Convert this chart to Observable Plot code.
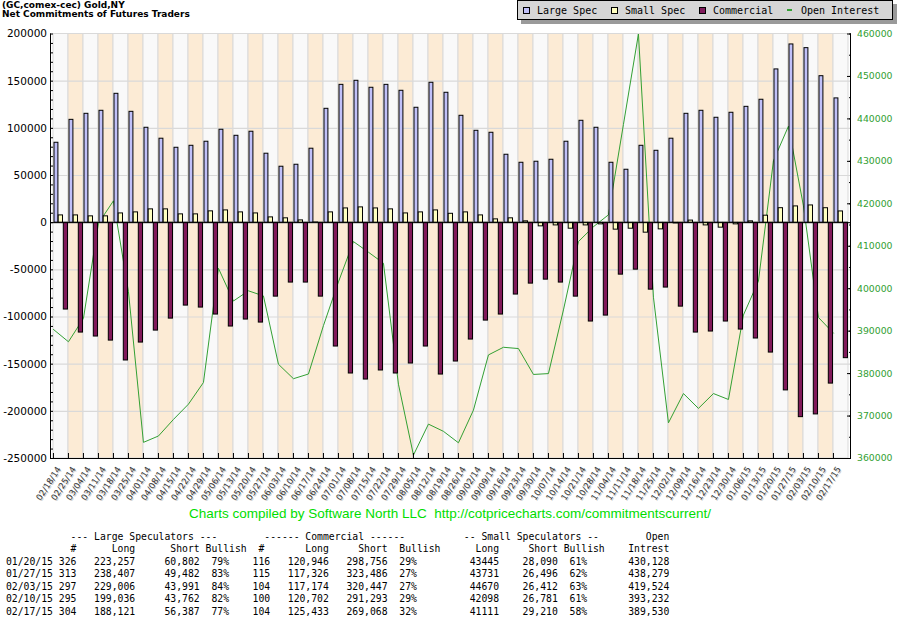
<!DOCTYPE html>
<html>
<head>
<meta charset="utf-8">
<script src="https://cdn.jsdelivr.net/npm/d3@7"></script>
<script src="https://cdn.jsdelivr.net/npm/@observablehq/plot@0.6"></script>
<style>
  body { margin: 0; background: #fff; }
  #wrap { position: relative; width: 900px; height: 620px; overflow: hidden; background: #fff; }
  #title { position: absolute; left: 2px; top: 1px; font: bold 9px "DejaVu Sans"; line-height: 8.5px; color: #000; white-space: pre; }
  #legend { position: absolute; left: 517px; top: 0px; width: 369px; height: 18px; background: #d6d6d6; border: 1px solid #000; box-shadow: 4px 4px 0 #9a9a9a; display: flex; align-items: center; padding-left: 5px; box-sizing: content-box; font: 10px "DejaVu Sans Mono"; color: #000; }
  .item { display: flex; align-items: center; width: 88px; white-space: pre; }
  .mk { width: 5px; height: 5px; border: 1px solid #000; margin-right: 7px; flex: none; }
  .dash { width: 5px; height: 2px; margin-right: 9px; flex: none; }
  #chart { position: absolute; left: 0; top: 28px; }
  #caption { position: absolute; left: 0; top: 506px; width: 900px; text-align: center; font: 13.5px "Liberation Sans"; color: #00dd00; white-space: pre; }
  #table { position: absolute; left: 6px; top: 530.5px; margin: 0; font: 9.75px "DejaVu Sans Mono"; line-height: 12.5px; color: #000; white-space: pre; }
</style>
</head>
<body>
<div id="wrap">
  <div id="title"></div>
  <div id="legend"></div>
  <div id="chart"></div>
  <div id="caption"></div>
  <pre id="table"></pre>
</div>
<script>
// ---------- data ----------
const titleLines = ["(GC,comex-cec) Gold,NY", "Net Commitments of Futures Traders"];
const weeks = ["02/18/14","02/25/14","03/04/14","03/11/14","03/18/14","03/25/14","04/01/14","04/08/14","04/15/14","04/22/14","04/29/14","05/06/14","05/13/14","05/20/14","05/27/14","06/03/14","06/10/14","06/17/14","06/24/14","07/01/14","07/08/14","07/15/14","07/22/14","07/29/14","08/05/14","08/12/14","08/19/14","08/26/14","09/02/14","09/09/14","09/16/14","09/23/14","09/30/14","10/07/14","10/14/14","10/21/14","10/28/14","11/04/14","11/11/14","11/18/14","11/25/14","12/02/14","12/09/14","12/16/14","12/23/14","12/30/14","01/06/15","01/13/15","01/20/15","01/27/15","02/03/15","02/10/15","02/17/15"];
const largeSpec = [84700,109000,115400,118600,136600,117500,100600,89000,79400,81500,85800,98500,92100,96400,73100,59300,61400,78400,120700,146100,150400,143000,146100,139800,121800,148300,137700,113300,97400,95300,72000,63500,64600,66700,85800,108000,100600,63500,56100,81500,76200,89000,115400,118600,111200,116500,122800,130300,162455,188925,185015,155274,131734];
const smallSpec = [7700,7700,6700,6700,9800,10900,14100,14100,8800,8800,12000,13000,10900,9800,5600,4600,2400,300,10900,15100,16200,15100,14100,9800,10900,13000,9400,10900,7700,3500,4600,1400,-3900,-2900,-6400,-2900,-1800,-7400,-6400,-10600,-7100,-800,2200,-2900,-5300,-1800,1400,7400,15355,17235,18258,15317,11901];
const commercial = [-92100,-116500,-120700,-125000,-146100,-127100,-114400,-101700,-87900,-90000,-97400,-110100,-102700,-105900,-78400,-63500,-63500,-78400,-131300,-159900,-166300,-156700,-159900,-149300,-131300,-161000,-147200,-123900,-103800,-97400,-76200,-64600,-60400,-63500,-78400,-104800,-98500,-55100,-49800,-71000,-68800,-89000,-116500,-115400,-104800,-113300,-122800,-137700,-177810,-206160,-203273,-170591,-143635];
const openInterest = [390400,387500,393000,415400,420700,399300,363800,365300,369200,372800,377900,404800,397100,399500,398300,382200,378800,379900,391300,401600,411100,408600,406000,377500,360800,368100,366400,363700,371400,384400,386200,385900,379800,380000,395000,411100,414600,417400,438700,460000,398000,368400,375300,371800,375300,373900,393800,401800,430128,438279,419524,393232,389530];

const leftTicks = [-250000,-200000,-150000,-100000,-50000,0,50000,100000,150000,200000];
const rightTicks = [360000,370000,380000,390000,400000,410000,420000,430000,440000,450000,460000];

const legendLabels = ["Large Spec","Small Spec","Commercial","Open Interest"];
const caption = "Charts compiled by Software North LLC  http://cotpricecharts.com/commitmentscurrent/";

// bottom table
const tDates   = ["01/20/15","01/27/15","02/03/15","02/10/15","02/17/15"];
const tLsN     = [326,313,297,295,304];
const tLsLong  = [223257,238407,229006,199036,188121];
const tLsShort = [60802,49482,43991,43762,56387];
const tLsBull  = [79,83,84,82,77];
const tCmN     = [116,115,104,100,104];
const tCmLong  = [120946,117326,117174,120702,125433];
const tCmShort = [298756,323486,320447,291293,269068];
const tCmBull  = [29,27,27,29,32];
const tSsLong  = [43445,43731,44670,42098,41111];
const tSsShort = [28090,26496,26412,26781,29210];
const tSsBull  = [61,62,63,61,58];
const tOi      = [430128,438279,419524,393232,389530];

// ---------- styling ----------
const C_LARGE = "#c0c0f8", C_SMALL = "#ffffc0", C_COMM = "#801a5a", C_OI = "#33a033";
const C_BAND_A = "#f9f9f9", C_BAND_B = "#fcebd5", C_GRID = "#d9d9d9";

// ---------- header / legend / caption ----------
document.getElementById("title").textContent = titleLines.join("\n");
const legendColors = [C_LARGE, C_SMALL, C_COMM, C_OI];
const legend = document.getElementById("legend");
legendLabels.forEach((lab, i) => {
  const it = document.createElement("div");
  it.className = "item";
  const mk = document.createElement("span");
  mk.className = i === 3 ? "dash" : "mk";
  mk.style.background = legendColors[i];
  const tx = document.createElement("span");
  tx.textContent = lab;
  it.appendChild(mk); it.appendChild(tx);
  legend.appendChild(it);
});
document.getElementById("caption").textContent = caption;

// ---------- chart ----------
const yMin = -250000, yMax = 200000;
const oiMin = 360000, oiMax = 460000;
const k = (yMax - yMin) / (oiMax - oiMin);
const toLeft = v => yMin + (v - oiMin) * k;
const fromLeft = y => oiMin + (y - yMin) / k;

const plotW = 800;
const bw = plotW / weeks.length;

const rows = weeks.map((w, i) => ({w, i, large: largeSpec[i], small: smallSpec[i], comm: commercial[i], oi: openInterest[i]}));

const minorLeft = d3.range(yMin, yMax + 1, 10000);
const gridVals = leftTicks.filter(v => v > yMin && v < yMax);
const rightMajor = rightTicks.map(toLeft);
const rightMinor = d3.range(oiMin, oiMax + 1, 5000).map(toLeft);

const chart = Plot.plot({
  width: 900,
  height: 482,
  marginTop: 5.5,
  marginBottom: 52,
  marginLeft: 50,
  marginRight: 50,
  style: {background: "transparent", fontFamily: "DejaVu Sans", overflow: "visible"},
  x: {type: "band", domain: weeks, padding: 0, axis: null, label: null},
  y: {domain: [yMin, yMax], axis: null, label: null},
  marks: [
    // alternating week bands with light separators
    Plot.barY(rows, {x: "w", y1: yMin, y2: yMax, fill: d => d.i % 2 ? C_BAND_B : C_BAND_A, stroke: C_GRID, strokeWidth: 1}),
    Plot.ruleY(gridVals, {stroke: C_GRID, strokeWidth: 1.2}),
    // open interest (right scale), drawn behind bars, at band starts
    Plot.line(rows, {x: "w", y: d => toLeft(d.oi), stroke: C_OI, strokeWidth: 1, dx: -bw / 2}),
    // grouped bars
    Plot.barY(rows, {x: "w", y: "large", fill: C_LARGE, stroke: "#000", strokeWidth: 1, insetLeft: 1, insetRight: bw - 5}),
    Plot.barY(rows, {x: "w", y: "small", fill: C_SMALL, stroke: "#000", strokeWidth: 1, insetLeft: 5.2, insetRight: bw - 9.6}),
    Plot.barY(rows, {x: "w", y: "comm", fill: C_COMM, stroke: "#000", strokeWidth: 1, insetLeft: 10.3, insetRight: bw - 14.6}),
    Plot.ruleY([0], {stroke: "#000", strokeWidth: 1}),
    // frame sides
    Plot.frame({anchor: "left", stroke: "#000"}),
    Plot.frame({anchor: "right", stroke: "#000"}),
    Plot.frame({anchor: "bottom", stroke: "#000"}),
    // left axis
    Plot.axisY({anchor: "left", label: null, ticks: leftTicks, tickSize: 0, tickPadding: 3.5, tickFormat: d => String(d), fontSize: 10.5, fill: "#000"}),
    Plot.axisY({anchor: "left", label: null, ticks: minorLeft, tickSize: 3, dx: 3, text: null, stroke: "#000"}),
    // right axis (open interest)
    Plot.axisY({anchor: "right", label: null, ticks: rightMajor, tickSize: 0, tickPadding: 6.5, tickFormat: d => String(Math.round(fromLeft(d))), fontSize: 9.3, fill: C_OI}),
    Plot.axisY({anchor: "right", label: null, ticks: rightMajor, tickSize: 4, dx: -4, text: null, stroke: "#000"}),
    Plot.axisY({anchor: "right", label: null, ticks: rightMinor, tickSize: 2, dx: -2, text: null, stroke: "#000"}),
    // bottom axis: inward ticks at week boundaries, rotated labels
    Plot.axisX({anchor: "bottom", label: null, tickSize: 5, dy: -5, dx: -bw / 2, text: null, stroke: "#000"}),
    Plot.axisX({anchor: "bottom", label: null, tickSize: 0, tickPadding: 9, tickRotate: -57, fontSize: 8.5, fill: "#c8c8c8", dx: -1, dy: 1}),
    Plot.axisX({anchor: "bottom", label: null, tickSize: 0, tickPadding: 9, tickRotate: -57, fontSize: 8.5, fill: "#333", dx: -2})
  ]
});
document.getElementById("chart").appendChild(chart);

// ---------- table ----------
const fmt = d3.format(",");
const padL = (s, n) => String(s).padStart(Math.max(n, 0));
const h1 = "".padEnd(11) + "--- Large Speculators ---";
const h1b = h1.padEnd(44) + "------ Commercial ------";
const h1c = h1b.padEnd(78) + "-- Small Speculators --";
const head1 = h1c.padEnd(109) + "Open";
let head2 = "".padEnd(11) + "#";
head2 = head2.padEnd(18) + "Long";
head2 = head2.padEnd(28) + "Short";
head2 = head2.padEnd(34) + "Bullish";
head2 = head2.padEnd(43) + "#";
head2 = head2.padEnd(51) + "Long";
head2 = head2.padEnd(60) + "Short";
head2 = head2.padEnd(67) + "Bullish";
head2 = head2.padEnd(80) + "Long";
head2 = head2.padEnd(89) + "Short";
head2 = head2.padEnd(95) + "Bullish";
head2 = head2.padEnd(106) + "Intrest";
const lines = [head1, head2];
tDates.forEach((d, i) => {
  let s = d + " " + tLsN[i];
  s += padL(fmt(tLsLong[i]), 22 - s.length);
  s += padL(fmt(tLsShort[i]), 33 - s.length);
  s = s.padEnd(35) + tLsBull[i] + "%";
  s = s.padEnd(42) + tCmN[i];
  s += padL(fmt(tCmLong[i]), 55 - s.length);
  s += padL(fmt(tCmShort[i]), 65 - s.length);
  s = s.padEnd(67) + tCmBull[i] + "%";
  s += padL(String(tSsLong[i]), 84 - s.length);
  s += padL(fmt(tSsShort[i]), 94 - s.length);
  s = s.padEnd(96) + tSsBull[i] + "%";
  s += padL(fmt(tOi[i]), 113 - s.length);
  lines.push(s);
});
document.getElementById("table").textContent = lines.join("\n");
</script>
</body>
</html>
